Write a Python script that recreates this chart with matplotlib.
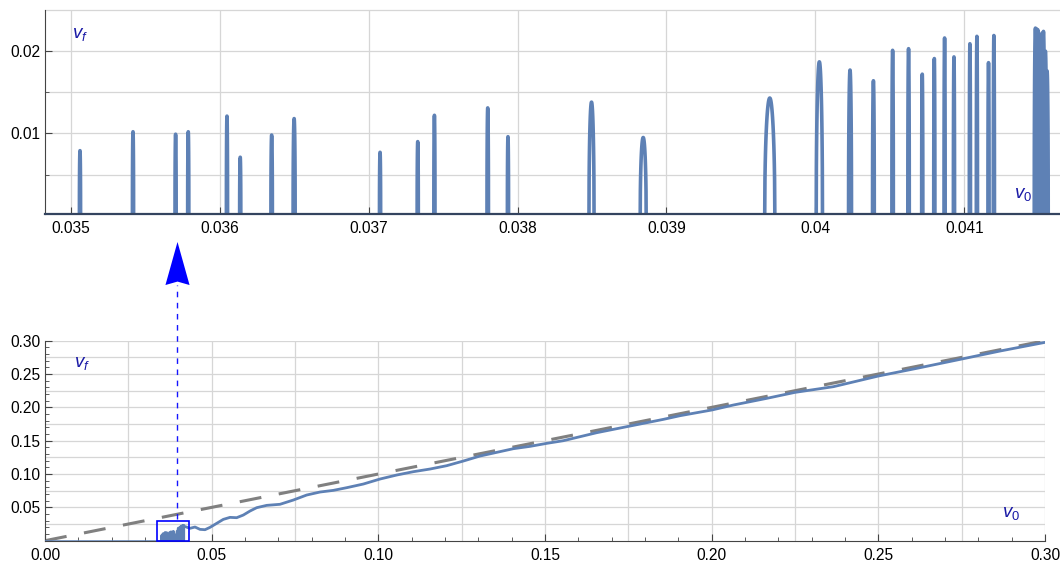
import numpy as np
import matplotlib
matplotlib.use("Agg")
import matplotlib.pyplot as plt
from matplotlib.patches import Rectangle
from matplotlib.path import Path

plt.rcParams['font.family'] = ['Liberation Sans', 'DejaVu Sans']
plt.rcParams['mathtext.fontset'] = 'custom'
plt.rcParams['mathtext.it'] = 'Liberation Sans:italic'
plt.rcParams['mathtext.rm'] = 'Liberation Sans'

# ---------------- data ----------------
# top (zoomed) panel: resonance spikes  (center v0, peak vf, half width)
peak_v0 = [0.035062, 0.035418, 0.035704, 0.035789, 0.036049, 0.036138, 0.036349, 0.036500,
           0.037077, 0.037330, 0.037442, 0.037800, 0.037936, 0.038497, 0.038844,
           0.039694, 0.040027, 0.040233, 0.040390, 0.040519, 0.040626, 0.040718, 0.040799,
           0.040868, 0.040931, 0.041038, 0.041085, 0.041163, 0.041199,
           0.041478, 0.041486, 0.041494, 0.041502, 0.041512, 0.041522, 0.041532, 0.041545, 0.041556]
peak_vf = [0.0079, 0.0102, 0.0099, 0.0102, 0.0121, 0.0071, 0.0098, 0.0118,
           0.0077, 0.0090, 0.0122, 0.0131, 0.0096, 0.0138, 0.0095,
           0.0143, 0.0187, 0.0177, 0.0164, 0.0201, 0.0203, 0.0172, 0.0191,
           0.0216, 0.0193, 0.0209, 0.0218, 0.0186, 0.0219,
           0.0228, 0.0227, 0.0226, 0.0212, 0.0190, 0.0222, 0.0224, 0.0200, 0.0176]
peak_hw = [0.000004, 0.000004, 0.000004, 0.000004, 0.000004, 0.000004, 0.000005, 0.000007,
           0.000004, 0.000004, 0.000004, 0.000005, 0.000004, 0.000017, 0.000020,
           0.000034, 0.000021, 0.000010, 0.000006, 0.000005, 0.000005, 0.000004, 0.000004,
           0.000004, 0.000004, 0.000004, 0.000004, 0.000004, 0.000004,
           0.000008, 0.000008, 0.000008, 0.000008, 0.000008, 0.000008, 0.000008, 0.000008, 0.000008]

# bottom panel: smooth part of v_f(v_0)
curve_v0 = [0.0418, 0.0435, 0.0450, 0.0465, 0.0480, 0.0495, 0.0515, 0.0535, 0.0555, 0.0575,
            0.0595, 0.0615, 0.0635, 0.0665, 0.0705, 0.0745, 0.0785, 0.0825, 0.0865, 0.0905,
            0.0955, 0.1005, 0.1055, 0.1105, 0.1155, 0.1205, 0.1255, 0.1305, 0.1355, 0.1405,
            0.1455, 0.1505, 0.1555, 0.1605, 0.1655, 0.1705, 0.1755, 0.1805, 0.1855, 0.1905,
            0.1955, 0.2000, 0.2065, 0.2165, 0.2250, 0.2365, 0.2500, 0.2615, 0.2750, 0.2865, 0.3000]
curve_vf = [0.0215, 0.0186, 0.0205, 0.0170, 0.0165, 0.0200, 0.0260, 0.0320, 0.0350, 0.0345,
            0.0385, 0.0445, 0.0495, 0.0530, 0.0546, 0.0610, 0.0685, 0.0730, 0.0755, 0.0795,
            0.0850, 0.0925, 0.0985, 0.1035, 0.1075, 0.1125, 0.1195, 0.1270, 0.1325, 0.1380,
            0.1415, 0.1460, 0.1500, 0.1560, 0.1620, 0.1670, 0.1720, 0.1770, 0.1820, 0.1875,
            0.1920, 0.1960, 0.2035, 0.2135, 0.2225, 0.2310, 0.2470, 0.2585, 0.2725, 0.2845, 0.2975]

top_xticks = [0.035, 0.036, 0.037, 0.038, 0.039, 0.040, 0.041]
top_xlabels = ["0.035", "0.036", "0.037", "0.038", "0.039", "0.04", "0.041"]
top_yticks = [0.01, 0.02]
top_ylabels = ["0.01", "0.02"]
top_ygrid = [0.005, 0.010, 0.015, 0.020, 0.025]

bot_xticks = [0.00, 0.05, 0.10, 0.15, 0.20, 0.25, 0.30]
bot_xlabels = ["0.00", "0.05", "0.10", "0.15", "0.20", "0.25", "0.30"]
bot_yticks = [0.05, 0.10, 0.15, 0.20, 0.25, 0.30]
bot_ylabels = ["0.05", "0.10", "0.15", "0.20", "0.25", "0.30"]
bot_grid = [0.025, 0.05, 0.075, 0.10, 0.125, 0.15, 0.175, 0.20, 0.225, 0.25, 0.275, 0.30]

zoom_box = (0.0337, 0.0, 0.0096, 0.0295)   # x, y, width, height of the blue box
arrow_x = 0.0396
arrow_y0, arrow_y1, arrow_head = 0.033, 0.383, 0.416

# ---------------- style ----------------
CURVE = '#5E81B5'
GRID = '#d6d6d6'
LABEL = '#1a1aa6'
AXC = '#444444'
FS = 11.2
LFS = 13.5

fig = plt.figure(figsize=(10.6, 5.64), dpi=100)
ax1 = fig.add_axes([45/1060, 1-214/564, 1015/1060, 204/564])
ax2 = fig.add_axes([45/1060, 1-540.7/564, 1000/1060, 200/564])


def spike(c, h, w, n=41):
    t = np.linspace(-1, 1, n)
    return c + w*t, h*np.sqrt(np.clip(1 - t**2, 0, 1))


for ax in (ax1, ax2):
    for s in ('top', 'right'):
        ax.spines[s].set_visible(False)
    ax.spines['left'].set_color(AXC)
    ax.spines['bottom'].set_color(AXC)
    ax.tick_params(which='both', direction='in', colors=AXC, labelcolor='black',
                   labelsize=FS)
    ax.tick_params(which='major', length=5)
    ax.tick_params(which='minor', length=3)

# ---- top panel ----
ax1.set_xlim(0.034827, 0.041643)
ax1.set_ylim(0.0002, 0.025)
for g in top_xticks:
    ax1.axvline(g, color=GRID, lw=0.9, zorder=0)
for g in top_ygrid:
    ax1.axhline(g, color=GRID, lw=0.9, zorder=0, clip_on=False)
ax1.plot([0.034827, 0.041643], [0, 0], color=CURVE, lw=2.6, zorder=2)
for c, h, w in zip(peak_v0, peak_vf, peak_hw):
    xs, ys = spike(c, h, w)
    ax1.plot(xs, ys, color=CURVE, lw=2.6, solid_joinstyle='round', zorder=2)
ax1.set_xticks(top_xticks)
ax1.set_xticklabels(top_xlabels)
ax1.set_yticks(top_yticks)
ax1.set_yticklabels(top_ylabels)
ax1.set_yticks([0.005, 0.015], minor=True)
ax1.spines['bottom'].set_color('#34445f')
ax1.spines['bottom'].set_linewidth(1.6)
ax1.tick_params(axis='x', pad=5)
ax1.text(0.0266, 0.8627, r'$v_f$', transform=ax1.transAxes, color=LABEL,
         fontsize=LFS, va='baseline', ha='left')
ax1.text(0.955, 0.080, r'$v_0$', transform=ax1.transAxes, color=LABEL,
         fontsize=LFS, va='baseline', ha='left')

# ---- bottom panel ----
ax2.set_xlim(0.0, 0.30)
ax2.set_ylim(0.0, 0.30)
for g in bot_grid:
    ax2.axvline(g, color=GRID, lw=0.9, zorder=0)
    ax2.axhline(g, color=GRID, lw=0.9, zorder=0)
ax2.axline((0, 0), slope=1, color='#808080', lw=2.2,
           linestyle=(0, (7.2, 5.8)), zorder=2)
ax2.plot([0.0, 0.0348], [0, 0], color=CURVE, lw=1.8, zorder=3)
for c, h, w in zip(peak_v0, peak_vf, peak_hw):
    xs, ys = spike(c, h, w)
    ax2.plot(xs, ys, color=CURVE, lw=2.2, zorder=3)
ax2.plot(curve_v0, curve_vf, color=CURVE, lw=2.0, zorder=3,
         solid_joinstyle='round', solid_capstyle='round')
ax2.set_xticks(bot_xticks)
ax2.set_xticklabels(bot_xlabels)
ax2.set_yticks(bot_yticks)
ax2.set_yticklabels(bot_ylabels)
ax2.set_xticks(np.arange(0.0, 0.3001, 0.01), minor=True)
ax2.set_yticks(np.arange(0.0, 0.3001, 0.01), minor=True)
ax2.tick_params(axis='x', pad=5)
ax2.text(0.029, 0.87, r'$v_f$', transform=ax2.transAxes, color=LABEL,
         fontsize=LFS, va='baseline', ha='left')
ax2.text(0.957, 0.117, r'$v_0$', transform=ax2.transAxes, color=LABEL,
         fontsize=LFS, va='baseline', ha='left')

# zoom box and arrow
bx, by, bw, bh = zoom_box
ax2.add_patch(Rectangle((bx, by), bw, bh, fill=False, edgecolor='#0000ff',
                        lw=1.2, zorder=4, clip_on=False))
ax2.plot([arrow_x, arrow_x], [arrow_y0, arrow_y1], color='#1515ff', lw=1.0,
         linestyle=(0, (4, 4)), clip_on=False, zorder=4)
head = Path([(0, 0.5), (0.28, -0.5), (0.0, -0.42), (-0.28, -0.5), (0, 0.5)],
            [Path.MOVETO, Path.LINETO, Path.LINETO, Path.LINETO, Path.CLOSEPOLY])
ax2.plot([arrow_x], [arrow_head], marker=head, markersize=31, color='#0000ff',
         markeredgewidth=0, clip_on=False, zorder=5)

fig.savefig('out.png', dpi=100)
